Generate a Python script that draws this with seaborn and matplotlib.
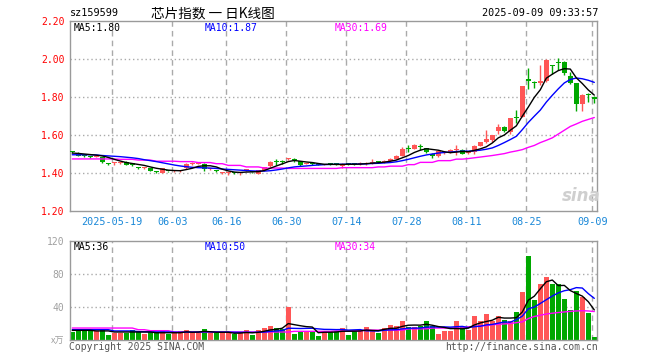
import matplotlib
matplotlib.use("Agg")
import numpy as np
import pandas as pd
import matplotlib.pyplot as plt
import seaborn as sns

# ---- daily candles, 2025-05-08 .. 2025-09-09 ----
opens = [1.512, 1.505, 1.489, 1.487, 1.485, 1.484, 1.450, 1.452, 1.454, 1.459,
         1.452, 1.430, 1.425, 1.426, 1.408, 1.400, 1.410, 1.409, 1.409, 1.424,
         1.448, 1.448, 1.449, 1.419, 1.411, 1.400, 1.400, 1.402, 1.399, 1.413,
         1.405, 1.397, 1.414, 1.435, 1.459, 1.459, 1.472, 1.470, 1.461, 1.448,
         1.450, 1.445, 1.443, 1.448, 1.447, 1.435, 1.450, 1.447, 1.446, 1.446,
         1.455, 1.460, 1.460, 1.461, 1.474, 1.491, 1.530, 1.526, 1.541, 1.531,
         1.494, 1.487, 1.504, 1.505, 1.520, 1.523, 1.503, 1.508, 1.544, 1.561,
         1.572, 1.620, 1.641, 1.616, 1.692, 1.695, 1.895, 1.878, 1.874, 1.883,
         1.963, 1.982, 1.983, 1.913, 1.874, 1.765, 1.813, 1.800]
closes = [1.510, 1.490, 1.487, 1.485, 1.490, 1.458, 1.448, 1.454, 1.456, 1.442,
          1.440, 1.428, 1.427, 1.410, 1.406, 1.424, 1.408, 1.411, 1.411, 1.449,
          1.450, 1.450, 1.421, 1.422, 1.409, 1.402, 1.402, 1.400, 1.401, 1.415,
          1.403, 1.414, 1.432, 1.459, 1.457, 1.457, 1.474, 1.468, 1.440, 1.450,
          1.448, 1.443, 1.445, 1.446, 1.445, 1.449, 1.448, 1.445, 1.448, 1.454,
          1.457, 1.456, 1.463, 1.475, 1.491, 1.528, 1.527, 1.549, 1.539, 1.508,
          1.492, 1.514, 1.506, 1.523, 1.523, 1.502, 1.505, 1.544, 1.561, 1.579,
          1.600, 1.641, 1.620, 1.687, 1.690, 1.856, 1.883, 1.876, 1.883, 1.997,
          1.961, 1.980, 1.924, 1.874, 1.765, 1.812, 1.811, 1.789]
highs = [1.517, 1.508, 1.493, 1.490, 1.493, 1.486, 1.452, 1.460, 1.460, 1.462,
         1.455, 1.434, 1.432, 1.428, 1.410, 1.426, 1.412, 1.414, 1.415, 1.451,
         1.457, 1.455, 1.452, 1.424, 1.415, 1.407, 1.406, 1.404, 1.405, 1.420,
         1.407, 1.416, 1.434, 1.461, 1.474, 1.470, 1.477, 1.478, 1.463, 1.453,
         1.458, 1.450, 1.450, 1.452, 1.450, 1.452, 1.455, 1.450, 1.460, 1.456,
         1.474, 1.463, 1.468, 1.478, 1.494, 1.535, 1.549, 1.552, 1.553, 1.533,
         1.505, 1.516, 1.510, 1.525, 1.549, 1.525, 1.508, 1.550, 1.563, 1.625,
         1.602, 1.660, 1.645, 1.690, 1.730, 1.858, 1.955, 1.885, 1.968, 2.000,
         1.970, 2.005, 1.990, 1.930, 1.876, 1.815, 1.820, 1.804]
lows = [1.503, 1.488, 1.482, 1.480, 1.482, 1.455, 1.444, 1.440, 1.450, 1.440,
        1.437, 1.422, 1.420, 1.408, 1.398, 1.398, 1.404, 1.405, 1.405, 1.422,
        1.440, 1.445, 1.410, 1.416, 1.403, 1.397, 1.392, 1.396, 1.392, 1.410,
        1.398, 1.395, 1.412, 1.433, 1.444, 1.447, 1.468, 1.460, 1.438, 1.445,
        1.442, 1.440, 1.440, 1.440, 1.440, 1.428, 1.444, 1.440, 1.442, 1.443,
        1.450, 1.452, 1.455, 1.458, 1.472, 1.488, 1.513, 1.524, 1.523, 1.505,
        1.479, 1.485, 1.500, 1.503, 1.496, 1.500, 1.500, 1.500, 1.540, 1.558,
        1.565, 1.605, 1.617, 1.605, 1.665, 1.693, 1.840, 1.850, 1.862, 1.880,
        1.920, 1.940, 1.918, 1.866, 1.724, 1.724, 1.775, 1.770]

# price moving averages as drawn
ma5 = [1.505, 1.503, 1.500, 1.497, 1.494, 1.490, 1.482, 1.472, 1.463, 1.455,
       1.450, 1.445, 1.440, 1.432, 1.425, 1.420, 1.415, 1.413, 1.412, 1.418,
       1.425, 1.435, 1.438, 1.438, 1.432, 1.420, 1.411, 1.405, 1.403, 1.405,
       1.406, 1.407, 1.413, 1.425, 1.437, 1.448, 1.460, 1.466, 1.462, 1.458,
       1.455, 1.450, 1.446, 1.446, 1.445, 1.445, 1.446, 1.446, 1.447, 1.449,
       1.452, 1.454, 1.457, 1.462, 1.468, 1.480, 1.492, 1.508, 1.520, 1.528,
       1.524, 1.520, 1.512, 1.507, 1.510, 1.513, 1.512, 1.519, 1.527, 1.538,
       1.558, 1.585, 1.600, 1.625, 1.648, 1.699, 1.747, 1.798, 1.838, 1.899,
       1.920, 1.939, 1.949, 1.947, 1.901, 1.871, 1.837, 1.810]
ma10 = [1.496, 1.496, 1.496, 1.496, 1.495, 1.492, 1.490, 1.488, 1.486, 1.483,
        1.480, 1.476, 1.470, 1.465, 1.460, 1.454, 1.448, 1.442, 1.437, 1.433,
        1.430, 1.428, 1.427, 1.426, 1.424, 1.421, 1.419, 1.417, 1.415, 1.413,
        1.411, 1.410, 1.410, 1.412, 1.416, 1.421, 1.427, 1.432, 1.435, 1.437,
        1.440, 1.442, 1.444, 1.445, 1.446, 1.446, 1.447, 1.447, 1.447, 1.448,
        1.450, 1.451, 1.453, 1.455, 1.459, 1.465, 1.472, 1.480, 1.488, 1.495,
        1.500, 1.505, 1.508, 1.510, 1.513, 1.515, 1.515, 1.517, 1.520, 1.525,
        1.532, 1.545, 1.560, 1.576, 1.593, 1.628, 1.666, 1.699, 1.731, 1.773,
        1.809, 1.843, 1.874, 1.892, 1.900, 1.896, 1.888, 1.877]
ma30 = [1.474, 1.474, 1.474, 1.474, 1.474, 1.474, 1.474, 1.474, 1.472, 1.472,
        1.472, 1.468, 1.468, 1.468, 1.462, 1.462, 1.462, 1.462, 1.460, 1.460,
        1.460, 1.455, 1.455, 1.455, 1.449, 1.449, 1.440, 1.440, 1.440, 1.432,
        1.432, 1.432, 1.426, 1.426, 1.426, 1.426, 1.424, 1.424, 1.424, 1.424,
        1.424, 1.424, 1.424, 1.424, 1.424, 1.428, 1.428, 1.428, 1.428, 1.428,
        1.428, 1.432, 1.432, 1.436, 1.436, 1.436, 1.444, 1.444, 1.456, 1.456,
        1.456, 1.465, 1.465, 1.465, 1.473, 1.473, 1.476, 1.480, 1.484, 1.488,
        1.492, 1.497, 1.502, 1.510, 1.516, 1.523, 1.535, 1.545, 1.560, 1.572,
        1.585, 1.605, 1.625, 1.645, 1.658, 1.672, 1.682, 1.692]

# volume (x万) and its moving averages
volumes = [9.2, 10.9, 10.9, 10.9, 10.9, 12.5, 6.4, 8.4, 8.4, 8.4,
           12.5, 9.2, 7.6, 9.2, 9.2, 10.9, 7.6, 8.4, 10.9, 11.7,
           8.4, 8.4, 13.3, 8.4, 8.4, 8.4, 8.4, 7.6, 9.2, 11.7,
           6.4, 11.7, 14.1, 17.3, 14.9, 13.3, 40.0, 7.6, 10.9, 9.2,
           10.9, 5.2, 10.9, 10.9, 10.5, 14.9, 6.4, 10.5, 12.5, 16.2,
           12.5, 8.9, 14.5, 18.5, 17.3, 23.4, 15.7, 15.7, 17.3, 23.4,
           17.3, 7.6, 10.5, 10.5, 23.4, 15.7, 11.7, 29.5, 23.4, 31.9,
           23.4, 29.5, 24.6, 23.4, 34.3, 57.7, 101.4, 48.9, 68.3, 76.7,
           68.3, 67.4, 50.1, 36.8, 59.4, 52.5, 33.1, 4.0]
vma5 = [11.7, 11.7, 11.7, 11.7, 11.0, 11.0, 11.0, 9.7, 9.7, 9.7,
        9.7, 9.7, 9.7, 9.7, 8.8, 8.8, 8.8, 8.8, 8.8, 9.9,
        9.4, 9.6, 10.5, 10.0, 9.4, 9.4, 9.4, 8.2, 8.4, 9.1,
        8.7, 9.3, 10.6, 12.2, 12.9, 14.3, 19.9, 18.6, 17.3, 16.2,
        15.7, 8.8, 9.4, 9.4, 9.7, 10.6, 10.6, 10.7, 10.9, 12.1,
        11.6, 11.3, 12.9, 14.1, 14.3, 16.5, 17.9, 18.1, 18.0, 19.1,
        17.9, 16.3, 15.2, 13.8, 13.9, 13.6, 14.4, 18.2, 20.7, 22.4,
        24.0, 27.5, 26.6, 26.6, 27.0, 33.9, 48.3, 53.1, 62.1, 70.6,
        72.7, 65.9, 66.2, 59.9, 56.4, 53.2, 46.4, 36.5]
vma10 = [12.5, 12.5, 12.5, 12.5, 12.5, 12.5, 12.5, 11.0, 11.0, 11.0,
         11.0, 10.2, 10.0, 9.8, 9.8, 9.8, 9.8, 9.5, 9.4, 9.5,
         9.6, 9.6, 9.9, 9.9, 9.7, 9.6, 9.6, 9.4, 9.3, 9.4,
         9.2, 9.5, 9.6, 10.4, 10.9, 11.5, 14.3, 14.1, 13.9, 14.1,
         14.2, 13.5, 12.9, 12.8, 12.6, 12.7, 12.0, 12.3, 12.6, 11.1,
         11.0, 10.9, 11.8, 12.3, 12.5, 13.5, 14.3, 14.4, 14.5, 15.6,
         15.8, 15.7, 15.9, 15.6, 16.1, 16.5, 15.1, 16.1, 16.7, 18.3,
         18.9, 20.4, 21.8, 21.6, 24.7, 28.9, 37.9, 39.9, 44.3, 48.8,
         53.3, 57.1, 59.7, 61.0, 63.5, 63.0, 56.2, 50.5]
vma30 = [14.5, 14.5, 14.5, 14.5, 14.5, 14.5, 14.5, 14.5, 14.5, 14.5,
         14.5, 12.5, 12.5, 11.3, 11.3, 11.3, 11.3, 9.7, 9.7, 9.7,
         9.7, 9.7, 9.7, 9.7, 9.7, 9.7, 9.7, 9.7, 9.7, 9.7,
         9.7, 9.7, 9.7, 9.7, 9.7, 9.7, 9.7, 10.5, 10.5, 10.5,
         10.5, 10.5, 10.5, 10.5, 11.0, 11.0, 11.0, 11.0, 11.0, 12.0,
         12.0, 12.0, 12.0, 12.0, 12.0, 12.0, 13.5, 13.5, 13.5, 13.5,
         14.5, 14.5, 14.5, 14.5, 14.5, 14.5, 16.0, 16.5, 17.0, 17.5,
         18.5, 19.0, 19.5, 20.0, 21.0, 22.0, 26.0, 28.5, 30.0, 31.5,
         32.5, 33.3, 34.0, 34.7, 35.2, 35.5, 35.2, 34.5]

# axis labels
tick_idx = [7, 17, 26, 36, 46, 56, 66, 76, 87]
tick_labels = ['2025-05-19', '06-03', '06-16', '06-30', '07-14',
               '07-28', '08-11', '08-25', '09-09']
price_ticks = [1.20, 1.40, 1.60, 1.80, 2.00, 2.20]
vol_ticks = [40, 80, 120]

RED = '#ff5656'
GREEN = '#00a800'
GRID = '#aaaaaa'
FRAME = '#9a9a9a'

sns.set_style("white")
plt.rcParams['font.family'] = ['DejaVu Sans Mono', 'Noto Sans CJK SC']

W, H = 660, 360
fig = plt.figure(figsize=(W / 100, H / 100), dpi=100)


def px_axes(left, top, right, bottom):
    return fig.add_axes([left / W, 1 - bottom / H, (right - left) / W, (bottom - top) / H])


ax_p = px_axes(70, 21, 597, 211)
ax_v = px_axes(70, 241, 597, 340)

df = pd.DataFrame({'open': opens, 'close': closes, 'high': highs, 'low': lows,
                   'vol': volumes, 'ma5': ma5, 'ma10': ma10, 'ma30': ma30,
                   'vma5': vma5, 'vma10': vma10, 'vma30': vma30})
df['idx'] = np.arange(len(df))
df['dir'] = np.where(df['close'] >= df['open'], 'up', 'down')
colors = df['dir'].map({'up': RED, 'down': GREEN})
xlim = (-0.38, 87.45)
grid_x = [i - 0.33 for i in tick_idx]

# ---- price panel ----
for y in [1.40, 1.60, 1.80, 2.00]:
    ax_p.axhline(y, color=GRID, lw=1, ls=(0, (1, 2)), zorder=0)
for gx in grid_x:
    ax_p.axvline(gx, color=GRID, lw=1, ls=(0, (4, 3)), zorder=0)

ax_p.vlines(df['idx'], df['low'], df['high'], colors=colors, lw=1, zorder=2)
body = np.maximum((df['close'] - df['open']).abs(), 0.0055)
ax_p.bar(df['idx'], body, bottom=np.minimum(df['open'], df['close']),
         width=0.78, color=colors, linewidth=0, zorder=3)

sns.lineplot(data=df, x='idx', y='ma30', color='#ff00ff', lw=1, ax=ax_p, zorder=4)
sns.lineplot(data=df, x='idx', y='ma10', color='#0000ff', lw=1, ax=ax_p, zorder=5)
sns.lineplot(data=df, x='idx', y='ma5', color='black', lw=1, ax=ax_p, zorder=6)

ax_p.set_xlim(*xlim)
ax_p.set_ylim(1.2, 2.2)
ax_p.set_yticks(price_ticks)
ax_p.set_yticklabels([f'{t:.2f}' for t in price_ticks], color='red', fontsize=7)
ax_p.set_xticks(grid_x)
ax_p.set_xticklabels(tick_labels, color='#1a88d8', fontsize=7.3)
ax_p.tick_params(length=0, pad=4)
ax_p.set_xlabel('')
ax_p.set_ylabel('')

# ---- volume panel ----
for y in [40, 80]:
    ax_v.axhline(y, color=GRID, lw=1, ls=(0, (1, 2)), zorder=0)
for gx in grid_x:
    ax_v.axvline(gx, color=GRID, lw=1, ls=(0, (4, 3)), zorder=0)

sns.barplot(data=df, x='idx', y='vol', hue='dir', palette={'up': RED, 'down': GREEN},
            native_scale=True, width=0.78, dodge=False, saturation=1,
            legend=False, errorbar=None, linewidth=0, ax=ax_v, zorder=2)
sns.lineplot(data=df, x='idx', y='vma30', color='#ff00ff', lw=1, ax=ax_v, zorder=4)
sns.lineplot(data=df, x='idx', y='vma10', color='#0000ff', lw=1, ax=ax_v, zorder=5)
sns.lineplot(data=df, x='idx', y='vma5', color='black', lw=1, ax=ax_v, zorder=6)

ax_v.set_xlim(*xlim)
ax_v.set_ylim(0, 120)
ax_v.set_yticks(vol_ticks)
ax_v.set_yticklabels([str(t) for t in vol_ticks], color='#a0a0a0', fontsize=7)
ax_v.set_xticks([])
ax_v.tick_params(length=0, pad=4)
ax_v.set_xlabel('')
ax_v.set_ylabel('')

for ax in (ax_p, ax_v):
    for sp in ax.spines.values():
        sp.set_color(FRAME)
        sp.set_linewidth(1)
        sp.set_visible(True)


def ftext(x, y, s, **kw):
    kw.setdefault('va', 'center')
    fig.text(x / W, 1 - y / H, s, **kw)


# header
ftext(70, 13, 'sz159599', fontsize=7.3, color='black')
ftext(151, 13, '芯片指数 一 日K线图', fontsize=9.8, color='black',
      family=['Noto Sans CJK SC', 'DejaVu Sans'])
ftext(598, 13, '2025-09-09 09:33:57', fontsize=7.3, color='black', ha='right')

# legends inside panels
ftext(74, 28, 'MA5:1.80', fontsize=7, color='black')
ftext(205, 28, 'MA10:1.87', fontsize=7, color='#0000ff')
ftext(335, 28, 'MA30:1.69', fontsize=7, color='#ff00ff')
ftext(74, 247, 'MA5:36', fontsize=7, color='black')
ftext(205, 247, 'MA10:50', fontsize=7, color='#0000ff')
ftext(335, 247, 'MA30:34', fontsize=7, color='#ff00ff')

# footer
ftext(64, 341, 'x万', fontsize=6.5, color='#a0a0a0', ha='right',
      family=['Noto Sans CJK SC', 'DejaVu Sans'])
ftext(69, 347, 'Copyright 2025 SINA.COM', fontsize=7, color='#555555')
ftext(598, 347, 'http://finance.sina.com.cn', fontsize=7, color='#555555', ha='right')

# watermark
ftext(581, 196, 'sina', fontsize=12, color='#cfcfcf', ha='center',
      fontweight='bold', style='italic', family='DejaVu Sans')

fig.savefig('out.png', dpi=100)
